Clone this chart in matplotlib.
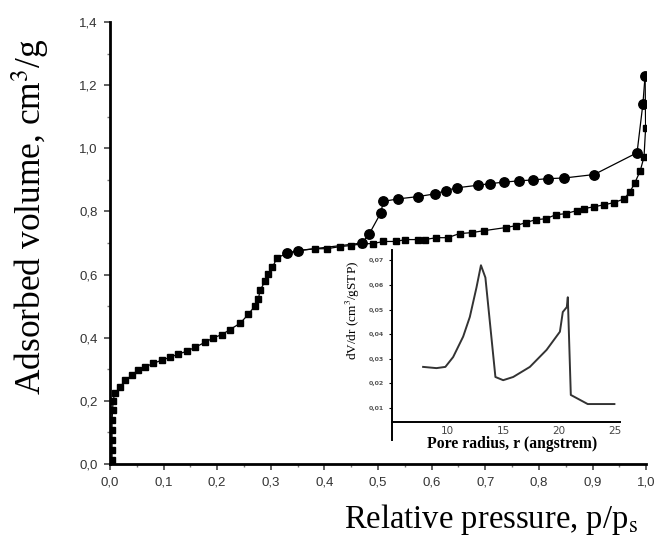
import numpy as np
import matplotlib.pyplot as plt
from matplotlib.ticker import MultipleLocator, FuncFormatter

# adsorption branch (squares)
ads_p = [0.004, 0.004, 0.004, 0.004, 0.004, 0.005, 0.006, 0.009, 0.019, 0.028, 0.041,
         0.052, 0.065, 0.081, 0.097, 0.112, 0.127, 0.143, 0.159, 0.178, 0.193,
         0.209, 0.224, 0.243, 0.258, 0.271, 0.277, 0.280, 0.290, 0.295, 0.303,
         0.312, 0.331, 0.351, 0.383, 0.405, 0.430, 0.449, 0.471, 0.490, 0.510,
         0.533, 0.551, 0.574, 0.587, 0.609, 0.630, 0.652, 0.675, 0.697, 0.738,
         0.757, 0.776, 0.794, 0.813, 0.832, 0.850, 0.871, 0.884, 0.903, 0.921,
         0.940, 0.959, 0.970, 0.979, 0.989, 0.996, 0.999, 0.998]
ads_v = [0.013, 0.044, 0.076, 0.107, 0.139, 0.170, 0.200, 0.224, 0.243, 0.265, 0.281,
         0.297, 0.307, 0.319, 0.329, 0.338, 0.348, 0.357, 0.370, 0.386, 0.400,
         0.410, 0.426, 0.446, 0.474, 0.502, 0.524, 0.550, 0.581, 0.603, 0.623,
         0.654, 0.667, 0.676, 0.682, 0.682, 0.689, 0.692, 0.698, 0.698, 0.705,
         0.705, 0.711, 0.711, 0.711, 0.717, 0.717, 0.730, 0.733, 0.739, 0.749,
         0.755, 0.765, 0.774, 0.777, 0.790, 0.793, 0.803, 0.809, 0.815, 0.821,
         0.828, 0.840, 0.863, 0.891, 0.929, 0.973, 1.065, 1.230]

# desorption branch (circles)
des_p = [0.998, 0.994, 0.983, 0.903, 0.847, 0.817, 0.789, 0.763, 0.735, 0.708,
         0.686, 0.647, 0.626, 0.607, 0.574, 0.538, 0.510, 0.505, 0.484, 0.470,
         0.351, 0.331]
des_v = [1.230, 1.142, 0.986, 0.917, 0.906, 0.904, 0.900, 0.897, 0.893, 0.888,
         0.883, 0.875, 0.866, 0.856, 0.847, 0.840, 0.832, 0.795, 0.730, 0.700,
         0.676, 0.668]

# pore size distribution (inset)
pore_r = [7.8, 9.0, 9.8, 10.5, 11.4, 12.0, 12.6, 13.0, 13.4, 14.3, 15.0, 15.9,
          17.4, 18.9, 20.1, 20.36, 20.72, 20.81, 21.08, 22.6, 25.0]
pore_dv = [0.0267, 0.0262, 0.0267, 0.0307, 0.039, 0.047, 0.059, 0.068, 0.063,
           0.0226, 0.0213, 0.0226, 0.0267, 0.0336, 0.041, 0.049, 0.051, 0.055,
           0.0153, 0.0116, 0.0116]
pore_ticks = [0.01, 0.02, 0.03, 0.04, 0.05, 0.06, 0.07]


def comma(x, pos):
    return ('%.1f' % x).replace('.', ',')


plt.rcParams['mathtext.fontset'] = 'stix'
serif = 'Liberation Serif'
sans = 'Liberation Sans'

fig = plt.figure(figsize=(6.58, 5.38), dpi=100)
ax = fig.add_axes([0.167, 0.1375, 0.815, 0.8215])

ax.plot(des_p, des_v, '-', color='black', lw=0.9, marker='o', ms=6.8)
ax.plot(ads_p, ads_v, '-', color='black', lw=0.9, marker='s', ms=5)

ax.set_xlim(0, 1.0)
ax.set_ylim(0, 1.4)
ax.spines['top'].set_visible(False)
ax.spines['right'].set_visible(False)
ax.spines['left'].set_linewidth(2)
ax.spines['bottom'].set_linewidth(2)
ax.xaxis.set_major_locator(MultipleLocator(0.1))
ax.xaxis.set_minor_locator(MultipleLocator(0.05))
ax.yaxis.set_major_locator(MultipleLocator(0.2))
ax.yaxis.set_minor_locator(MultipleLocator(0.1))
ax.xaxis.set_major_formatter(FuncFormatter(comma))
ax.yaxis.set_major_formatter(FuncFormatter(comma))
ax.tick_params(which='major', length=4, width=1.2, labelsize=9.5, pad=5, color='#444444')
ax.tick_params(which='minor', length=2, width=1, color='#777777')
for lab in ax.get_xticklabels() + ax.get_yticklabels():
    lab.set_color('#333333')
    lab.set_family(sans)

ax.set_xlabel(r'Relative pressure, p/p$_{\mathrm{s}}$', family=serif, fontsize=23.5,
              ha='right')
ax.xaxis.set_label_coords(0.985, -0.085)
ax.set_ylabel(r'Adsorbed volume, cm$^3$/g', family=serif, fontsize=25.5)
ax.yaxis.set_label_coords(-0.108, 0.56)

# inset
axin = fig.add_axes([0.5957, 0.1822, 0.3465, 0.3531])
axin.patch.set_alpha(0)
axin.plot(pore_r, pore_dv, color='#333333', lw=1.4)
axin.set_xlim(5, 25.5)
axin.set_ylim(-0.003, 0.0742)
axin.spines['top'].set_visible(False)
axin.spines['right'].set_visible(False)
axin.spines['bottom'].set_position(('data', 0.0043))
axin.spines['bottom'].set_linewidth(1.4)
axin.spines['left'].set_linewidth(1.4)
axin.set_xticks([10, 15, 20, 25])
axin.set_yticks(pore_ticks)
axin.set_yticklabels([('%.2f' % t).replace('.', ',') for t in pore_ticks],
                     fontweight='bold')
axin.tick_params(axis='x', length=0, labelsize=7.5, pad=3, labelcolor='#444444')
axin.tick_params(axis='y', length=2, labelsize=4.5, pad=4, labelcolor='#555555')
axin.set_xlabel('Pore radius, r (angstrem)', family=serif, fontsize=11.3,
                fontweight='bold')
axin.xaxis.set_label_coords(0.526, 0.02)
axin.set_ylabel(r'dV/dr (cm$^3$/gSTP)', family=serif, fontsize=9.5)
axin.yaxis.set_label_coords(-0.13, 0.68)

fig.savefig('out.png', dpi=100)
